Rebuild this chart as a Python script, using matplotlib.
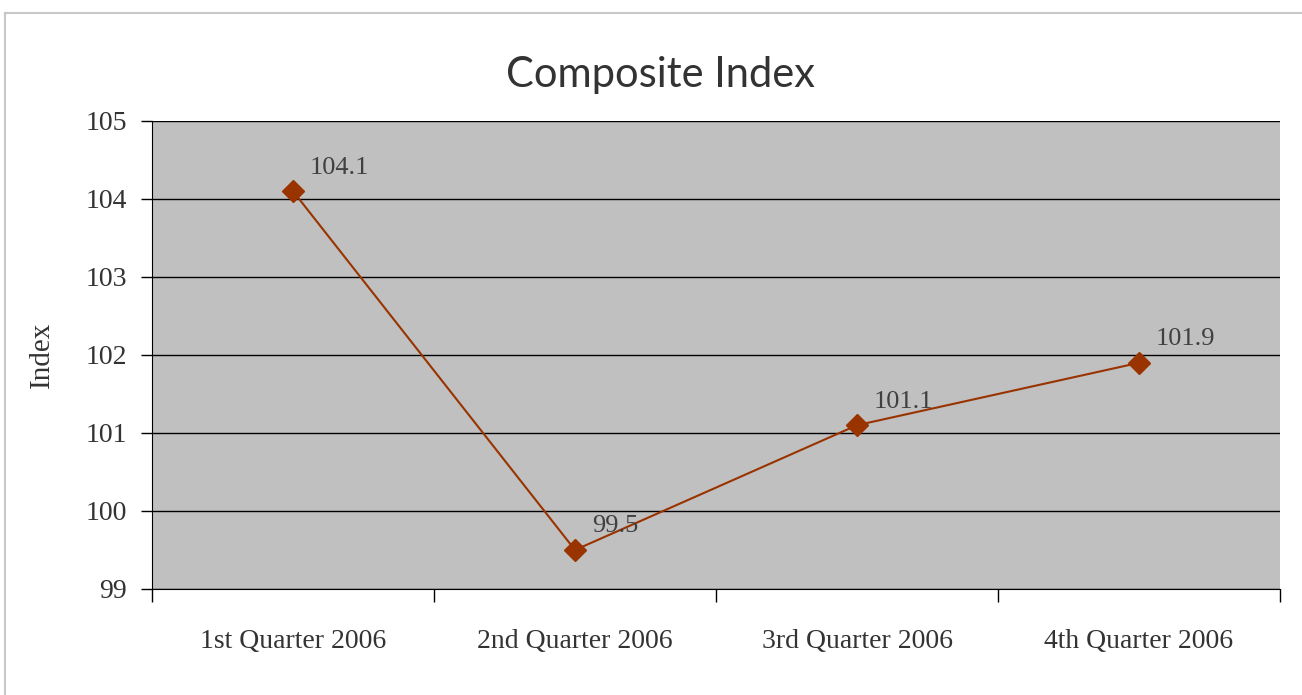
import matplotlib
matplotlib.use("Agg")
import matplotlib.pyplot as plt

# data
quarters = ["1st Quarter 2006", "2nd Quarter 2006", "3rd Quarter 2006", "4th Quarter 2006"]
index_values = [104.1, 99.5, 101.1, 101.9]
y_ticks = [99, 100, 101, 102, 103, 104, 105]

serif = ["Liberation Serif", "DejaVu Serif"]
line_color = "#993300"

fig = plt.figure(figsize=(13.02, 6.95), dpi=100)
ax = fig.add_axes([152 / 1302, 1 - 589 / 695, (1280 - 152) / 1302, (589 - 121) / 695])

x = range(len(quarters))
ax.plot(x, index_values, color=line_color, linewidth=1.5, marker="D",
        markersize=11, markerfacecolor=line_color, markeredgecolor=line_color, zorder=3)

# data labels, up and to the right of each point
for xi, v in zip(x, index_values):
    ax.annotate(f"{v}", (xi, v), xytext=(12, 17), textcoords="offset points",
                ha="left", va="center", fontsize=19, color="#404040", family=serif)

ax.set_facecolor("#c0c0c0")
ax.set_xlim(-0.5, len(quarters) - 0.5)
ax.set_ylim(99, 105)
ax.set_yticks(y_ticks)
ax.set_yticklabels([str(t) for t in y_ticks], family=serif, fontsize=20, color="#333333")
ax.yaxis.grid(True, color="black", linewidth=1)
ax.set_axisbelow(True)

# category labels sit between the boundary ticks
ax.set_xticks([i - 0.5 for i in range(len(quarters) + 1)])
ax.set_xticklabels([])
ax.set_xticks(list(x), minor=True)
ax.set_xticklabels(quarters, minor=True, family=serif, fontsize=20, color="#333333")
ax.tick_params(axis="x", which="minor", length=0, pad=29)
ax.tick_params(axis="x", which="major", length=9, width=1, direction="out")
ax.tick_params(axis="y", length=8, width=1, direction="out", pad=10)

for side in ["top", "right"]:
    ax.spines[side].set_visible(False)
ax.spines["left"].set_color("black")
ax.spines["bottom"].set_color("black")

ax.set_ylabel("Index", family=serif, fontsize=21, color="#333333", labelpad=22)

fig.text(661 / 1302, 1 - 75 / 695, "Composite Index", ha="center", va="center",
         fontsize=30, color="#333333", family=["Lato", "DejaVu Sans"])

# light frame around the chart
fig.add_artist(plt.Line2D([5 / 1302, 5 / 1302], [0, 1 - 13 / 695], color="#c8c8c8", linewidth=1.5))
fig.add_artist(plt.Line2D([5 / 1302, 1], [1 - 13 / 695, 1 - 13 / 695], color="#c8c8c8", linewidth=1.5))

fig.savefig("out.png", dpi=100)
